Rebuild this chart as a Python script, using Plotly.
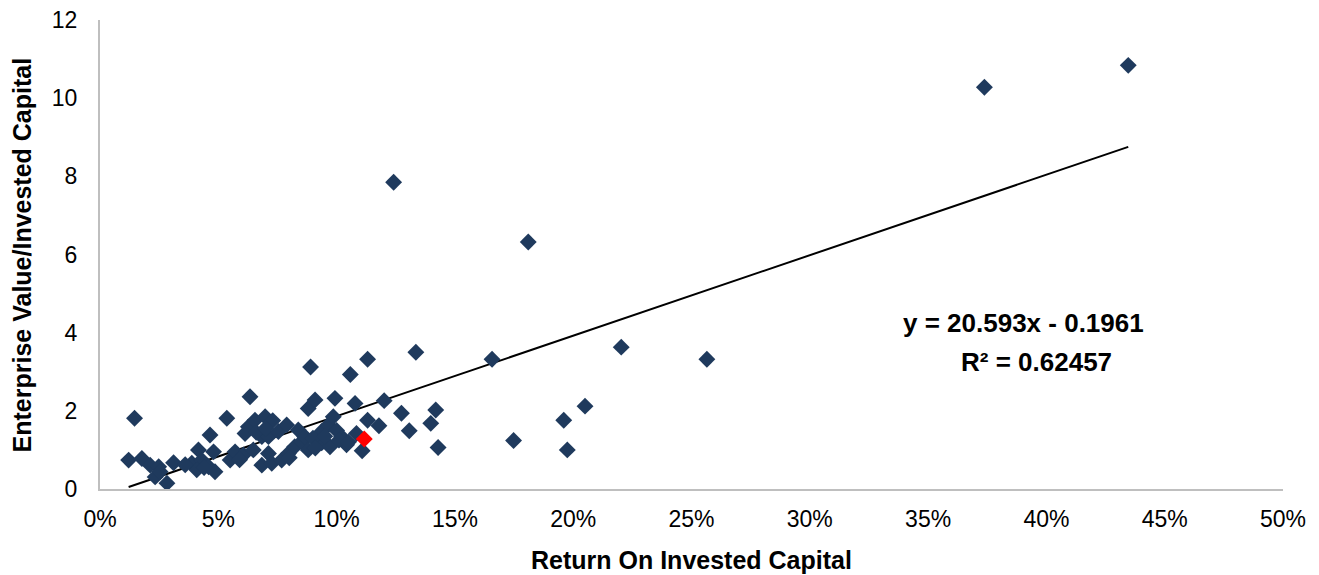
import plotly.graph_objects as go

# Return on invested capital (fraction) and EV/IC for each company
roic = [0.0121, 0.0146, 0.0177, 0.0212, 0.0248, 0.0233, 0.0254, 0.0283, 0.0311, 0.0388,
        0.0416, 0.0430, 0.0409, 0.0459, 0.0480, 0.0465, 0.0486, 0.0536, 0.0550, 0.0571,
        0.0606, 0.0634, 0.0627, 0.0613, 0.0655, 0.0698, 0.0684, 0.0648, 0.0684, 0.0712,
        0.0726, 0.0768, 0.0796, 0.0712, 0.0754, 0.0789, 0.0823, 0.0838, 0.0852, 0.0866,
        0.0880, 0.0880, 0.0890, 0.0909, 0.0937, 0.0937, 0.0965, 0.0972, 0.0986, 0.0993,
        0.1021, 0.1042, 0.1058, 0.1078, 0.1084, 0.1108, 0.1131, 0.1131, 0.1179, 0.1201,
        0.1241, 0.1274, 0.1307, 0.1335, 0.1398, 0.1419, 0.1429, 0.1657, 0.1748, 0.1810,
        0.1960, 0.1975, 0.2050, 0.2203, 0.2565, 0.3738, 0.4346,
        0.0730, 0.0660, 0.0900, 0.0950, 0.1000, 0.1010, 0.0800, 0.0910, 0.0590, 0.0360,
        0.0440, 0.0700, 0.1050]
ev_ic = [0.74, 1.81, 0.78, 0.61, 0.57, 0.31, 0.44, 0.15, 0.67, 0.66,
         1.00, 0.74, 0.49, 0.57, 0.95, 1.38, 0.44, 1.81, 0.74, 0.95,
         0.87, 2.36, 1.59, 1.42, 1.76, 1.85, 1.34, 1.00, 0.61, 0.91,
         0.66, 0.74, 0.91, 1.34, 1.47, 1.64, 1.08, 1.51, 1.21, 1.34,
         1.00, 2.06, 3.12, 2.28, 1.47, 1.18, 1.64, 1.08, 1.85, 2.32,
         1.34, 1.13, 2.93, 2.19, 1.42, 0.98, 1.76, 3.32, 1.62, 2.26,
         7.85, 1.94, 1.49, 3.50, 1.68, 2.02, 1.06, 3.32, 1.24, 6.32,
         1.76, 1.00, 2.12, 3.63, 3.32, 10.28, 10.84,
         1.75, 1.45, 1.30, 1.35, 1.50, 1.25, 0.80, 1.05, 0.75, 0.62,
         0.55, 1.55, 1.20]

# Highlighted company
hl_roic = [0.1117]
hl_ev_ic = [1.28]

# Linear trendline coefficients (from chart label)
slope = 20.593
intercept = -0.1961
r_squared = 0.62457

x_ticks = [0, 0.05, 0.10, 0.15, 0.20, 0.25, 0.30, 0.35, 0.40, 0.45, 0.50]
y_ticks = [0, 2, 4, 6, 8, 10, 12]

navy = "#1F3A5D"
font_family = "Liberation Sans, Arial, sans-serif"

x_lo, x_hi = min(roic), max(roic)
trend_x = [x_lo, x_hi]
trend_y = [slope * v + intercept for v in trend_x]

fig = go.Figure()
fig.add_trace(go.Scatter(
    x=trend_x, y=trend_y, mode="lines",
    line=dict(color="black", width=2), hoverinfo="skip", showlegend=False))
fig.add_trace(go.Scatter(
    x=roic, y=ev_ic, mode="markers",
    marker=dict(symbol="diamond", size=13, color=navy, line=dict(width=0)),
    showlegend=False))
fig.add_trace(go.Scatter(
    x=hl_roic, y=hl_ev_ic, mode="markers",
    marker=dict(symbol="diamond", size=13, color="#FF0000", line=dict(width=0)),
    showlegend=False))

fig.add_annotation(x=0.3905, y=4.25, xref="x", yref="y",
                   text=f"<b>y = {slope}x - {abs(intercept)}</b>", showarrow=False,
                   font=dict(size=26, color="black", family=font_family))
fig.add_annotation(x=0.396, y=3.25, xref="x", yref="y",
                   text=f"<b>R² = {r_squared}</b>", showarrow=False,
                   font=dict(size=26, color="black", family=font_family))

# Axis titles
fig.add_annotation(x=0.5, y=-0.151, xref="paper", yref="paper",
                   xanchor="center", yanchor="middle",
                   text="<b>Return On Invested Capital</b>", showarrow=False,
                   font=dict(size=25, color="black", family=font_family))
fig.add_annotation(x=-0.066, y=0.5, xref="paper", yref="paper",
                   xanchor="center", yanchor="middle", textangle=-90,
                   text="<b>Enterprise Value/Invested Capital</b>", showarrow=False,
                   font=dict(size=25, color="black", family=font_family))

fig.update_layout(
    width=1311, height=567,
    margin=dict(l=92, r=36, t=12, b=86),
    paper_bgcolor="white", plot_bgcolor="white",
    font=dict(family=font_family, size=23, color="black"),
    xaxis=dict(range=[0, 0.5], tickvals=x_ticks, tickformat=".0%",
               showgrid=False, zeroline=False, showline=True,
               linecolor="#BFBFBF", linewidth=2, automargin=False,
               ticklabeloverflow="allow",
               ticks="outside", ticklen=8, tickcolor="rgba(0,0,0,0)"),
    yaxis=dict(range=[0, 12], tickvals=y_ticks,
               showgrid=False, zeroline=False, showline=True,
               linecolor="#BFBFBF", linewidth=2, automargin=False,
               ticklabeloverflow="allow",
               ticks="outside", ticklen=16, tickcolor="rgba(0,0,0,0)"),
)

fig.write_html("out.html")
